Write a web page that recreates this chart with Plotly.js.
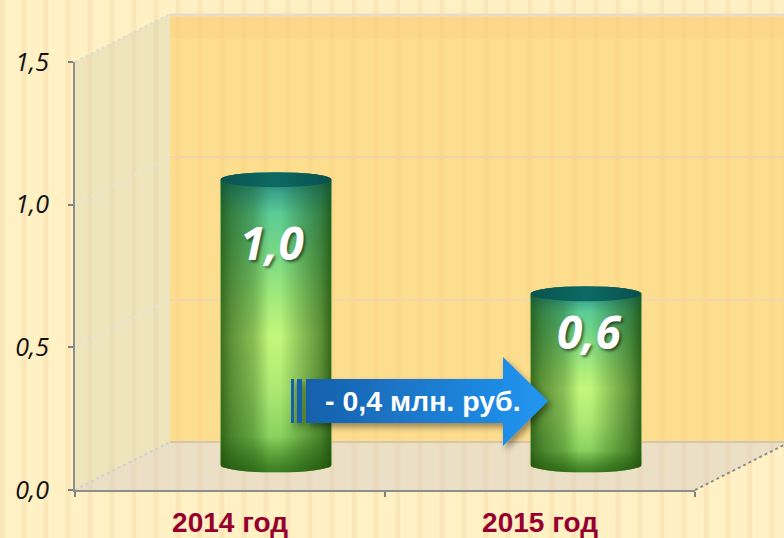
<!DOCTYPE html>
<html><head><meta charset="utf-8">
<script src="https://cdn.plot.ly/plotly-3.0.1.min.js"></script>
<style>
html,body{margin:0;padding:0;width:784px;height:538px;overflow:hidden;background-color:#FFF1C4;
background-image:repeating-linear-gradient(90deg,#FBE6B7 0px,#FBE6B7 5.5px,#FFF1C4 5.5px,#FFF1C4 22px);background-position:-0.5px 0;}
#chart{width:784px;height:538px}
</style></head><body><div id="chart"></div>
<script>
const categories = ["2014 год", "2015 год"];
const values = [1.0, 0.6];
const valueLabels = ["1,0", "0,6"];
const yTicks = [0, 0.5, 1.0, 1.5];
const changeLabel = "- 0,4 млн. руб.";

const W = 784, H = 538;
const px = v => v / W, py = v => 1 - v / H;
const PX_PER_UNIT = 428 / 1.5;
const OVER = 7.5 / PX_PER_UNIT;

function uri(svg){ return "data:image/svg+xml;charset=utf-8," + encodeURIComponent(svg); }

function cylinder(h){
  const w = 111, ry = 7.5;
  const body = `M0,${ry} A${w/2},${ry} 0 0 1 ${w},${ry} L${w},${h-ry} A${w/2},${ry} 0 0 1 0,${h-ry} Z`;
  const m = "#1A4A08";
  return uri(`<svg xmlns="http://www.w3.org/2000/svg" width="${w}" height="${h}" viewBox="0 0 ${w} ${h}" preserveAspectRatio="none">
  <defs>
   <linearGradient id="v" x1="0" y1="0" x2="0" y2="1">
    <stop offset="0" stop-color="#2FA58E"/><stop offset="0.07" stop-color="#52CBA8"/>
    <stop offset="0.22" stop-color="#6FD98E"/><stop offset="0.42" stop-color="#A8F080"/>
    <stop offset="0.55" stop-color="#C8FF80"/><stop offset="0.72" stop-color="#B4F078"/>
    <stop offset="0.88" stop-color="#8ED862"/><stop offset="1" stop-color="#5FB03C"/>
   </linearGradient>
   <linearGradient id="m" x1="0" y1="0" x2="1" y2="0">
    <stop offset="0" stop-color="${m}" stop-opacity="0.8"/><stop offset="0.1" stop-color="${m}" stop-opacity="0.6"/>
    <stop offset="0.3" stop-color="${m}" stop-opacity="0.36"/><stop offset="0.44" stop-color="${m}" stop-opacity="0.04"/>
    <stop offset="0.54" stop-color="${m}" stop-opacity="0.04"/><stop offset="0.72" stop-color="${m}" stop-opacity="0.33"/>
    <stop offset="0.9" stop-color="${m}" stop-opacity="0.6"/><stop offset="1" stop-color="${m}" stop-opacity="0.85"/>
   </linearGradient>
   <linearGradient id="e" x1="0" y1="0" x2="0" y2="1">
    <stop offset="0" stop-color="#07504A" stop-opacity="0.55"/><stop offset="0.14" stop-color="#07504A" stop-opacity="0"/>
    <stop offset="0.88" stop-color="#1A4A08" stop-opacity="0"/><stop offset="1" stop-color="#1A4A08" stop-opacity="0.5"/>
   </linearGradient>
   <linearGradient id="t" x1="0" y1="0" x2="1" y2="0">
    <stop offset="0" stop-color="#0A524E"/><stop offset="0.5" stop-color="#0C6A64"/><stop offset="1" stop-color="#094F4E"/>
   </linearGradient>
  </defs>
  <path d="${body}" fill="url(#v)"/>
  <path d="${body}" fill="url(#m)"/>
  <path d="${body}" fill="url(#e)"/>
  <ellipse cx="${w/2}" cy="${ry}" rx="${w/2}" ry="${ry}" fill="url(#t)"/>
 </svg>`);
}

const arrowSvg = uri(`<svg xmlns="http://www.w3.org/2000/svg" width="270" height="100" viewBox="0 0 270 100">
 <defs>
  <linearGradient id="a" x1="15" y1="0" x2="257" y2="0" gradientUnits="userSpaceOnUse">
   <stop offset="0" stop-color="#1760AB"/><stop offset="1" stop-color="#2196F3"/>
  </linearGradient>
  <filter id="s" x="-5%" y="-10%" width="115%" height="130%"><feDropShadow dx="3" dy="4" stdDeviation="3" flood-color="#000" flood-opacity="0.4"/></filter>
 </defs>
 <g filter="url(#s)" fill="url(#a)">
  <rect x="0" y="22" width="3" height="44"/><rect x="6" y="22" width="5" height="44"/>
  <path d="M15,22 H212 V0 L257,44 L212,89 V66 H15 Z"/>
 </g>
</svg>`);

const poly = (pts, fill) => ({type:"path", xref:"paper", yref:"paper", layer:"below",
  path:"M" + pts.map(p => px(p[0]) + "," + py(p[1])).join(" L") + " Z", fillcolor:fill, line:{width:0}});
const seg = (x0,y0,x1,y1,color,width,dash) => ({type:"line", xref:"paper", yref:"paper", layer:"below",
  x0:px(x0), y0:py(y0), x1:px(x1), y1:py(y1), line:{color:color, width:width, dash:dash||"solid"}});

const shapes = [
  poly([[170,14],[784,14],[784,442],[170,442]], "rgba(252,208,106,0.6)"),
  poly([[170,17],[784,17],[784,38],[170,38]], "rgba(255,190,120,0.14)"),
  poly([[75,62],[170,14],[170,442],[75,490]], "rgba(205,205,175,0.35)"),
  poly([[75,490],[695,490],[784,445],[784,442],[170,442]], "rgba(210,205,200,0.45)"),
  seg(170,15,784,15,"#E6DDC4",3),
  seg(170,157,784,157,"#F2D6A6",2),
  seg(170,300,784,300,"#F0D8AE",2),
  seg(170,442,784,442,"#D8C6A8",2),
  seg(75,62,170,14,"#DEDCD2",2,"dot"),
  seg(75,205,170,157,"#E8E4D4",2,"dot"),
  seg(75,347,170,300,"#E8E4D4",2,"dot"),
  seg(75,490,170,442,"#CFCFCF",2,"dot"),
  seg(695,490,784,445,"#8F8F8F",2,"dot")
];

const images = values.map((v,i) => ({
  source: cylinder(Math.round((v + 2*OVER) * PX_PER_UNIT)),
  xref:"x2", yref:"y2", x:i, y:v + OVER, sizex:111/310, sizey:v + 2*OVER,
  xanchor:"center", yanchor:"top", sizing:"stretch", layer:"above"
}));
images.push({source:arrowSvg, xref:"paper", yref:"paper", x:px(291), y:py(357),
  sizex:270/W, sizey:100/H, xanchor:"left", yanchor:"top", sizing:"stretch", layer:"above"});

const labelFont = {family:"Open Sans, sans-serif", size:46, color:"#fff", weight:"bold", style:"italic",
  shadow:"2px 2px 3px rgba(0,0,0,0.55)"};
const annotations = [
  {xref:"x2", yref:"y2", x:0, y:values[0]-0.22, xshift:-4, text:valueLabels[0], showarrow:false, font:labelFont, xanchor:"center", yanchor:"middle"},
  {xref:"x2", yref:"y2", x:1, y:values[1]-0.13, xshift:3, text:valueLabels[1], showarrow:false, font:labelFont, xanchor:"center", yanchor:"middle"},
  {xref:"paper", yref:"paper", x:px(423), y:py(401), text:changeLabel, showarrow:false, xanchor:"center", yanchor:"middle",
   font:{family:"Liberation Sans, Arial, sans-serif", size:28.5, color:"#fff", weight:"bold"}}
];

const traces = [
  {type:"bar", x:categories, y:values, xaxis:"x", yaxis:"y", opacity:0, hoverinfo:"skip", showlegend:false},
  {type:"bar", x:categories, y:values, xaxis:"x2", yaxis:"y2", marker:{color:"#7CC456"}, showlegend:false, hoverinfo:"skip"}
];

const axisLine = {showline:true, linecolor:"#8E8E8E", linewidth:2, ticks:"outside", tickcolor:"#808080", tickwidth:2, ticklen:5, zeroline:false, showgrid:false};

const layout = {
  width:W, height:H, margin:{l:0,r:0,t:0,b:0}, autosize:false,
  paper_bgcolor:"rgba(0,0,0,0)", plot_bgcolor:"rgba(0,0,0,0)",
  separators:", ", bargap:0.642, showlegend:false,
  xaxis: Object.assign({}, axisLine, {domain:[px(75),px(695)], anchor:"y", type:"category", categoryarray:categories, range:[-0.5,1.5],
    tickson:"boundaries", ticklabelstandoff:6, automargin:false,
    tickfont:{family:"Liberation Sans, Arial, sans-serif", size:28, color:"#96002E", weight:"bold"}}),
  yaxis: Object.assign({}, axisLine, {domain:[py(490),py(62)], anchor:"x", range:[0,1.5], tickvals:yTicks, tickformat:".1f", ticklabelstandoff:14, automargin:false,
    tickfont:{family:"Open Sans, sans-serif", size:25, color:"#111", style:"italic"}}),
  xaxis2:{domain:[px(121),px(741)], anchor:"y2", type:"category", categoryarray:categories, range:[-0.5,1.5], visible:false},
  yaxis2:{domain:[py(465 + 0.1*PX_PER_UNIT),py(37)], anchor:"x2", range:[-0.1,1.5], visible:false},
  shapes, images, annotations
};
Plotly.newPlot("chart", traces, layout, {displayModeBar:false, staticPlot:true});
</script></body></html>
